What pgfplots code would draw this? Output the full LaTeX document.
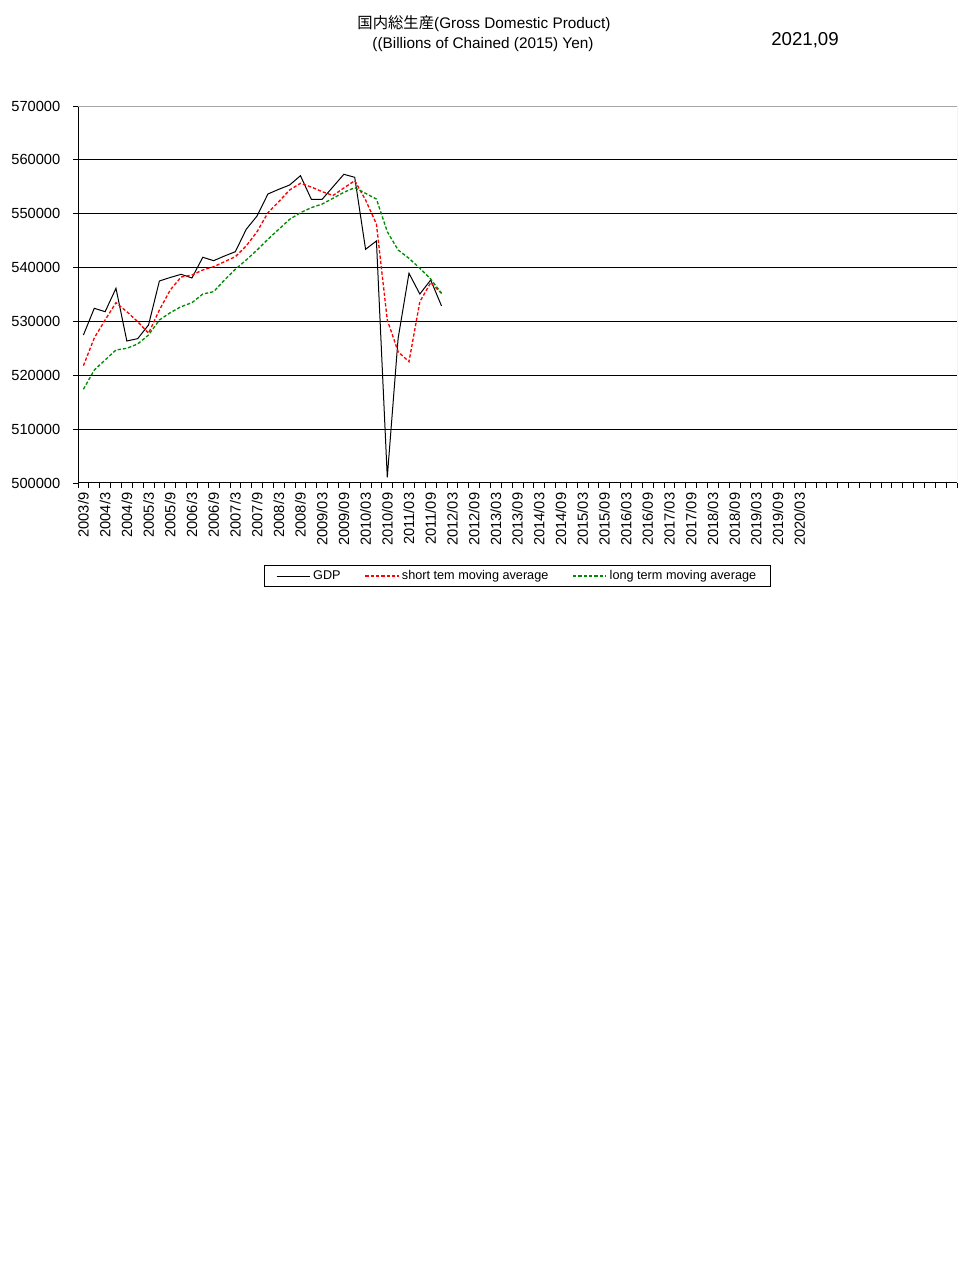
\documentclass[border=0pt]{standalone}
\usepackage{fontspec}
\setmainfont{Liberation Sans}
\newfontfamily\cjk{Noto Sans CJK JP}
\usepackage{pgfplots}
\pgfplotsset{compat=1.18}
\definecolor{lgreen}{RGB}{0,140,0}

\begin{document}
\begin{tikzpicture}
% page is 967x1268 px, 1px = 0.75pt
\begin{scope}[x=0.75pt,y=-0.75pt]
    \path[use as bounding box] (0,0) rectangle (967,1268);
    \node[font=\fontsize{11.5}{13}\selectfont] at (484,24) {{\cjk 国内総生産}(Gross Domestic Product)};
    \node[font=\fontsize{11.5}{13}\selectfont] at (483,45) {((Billions of Chained (2015) Yen)};
    \node[font=\fontsize{14}{16}\selectfont] at (805,40) {2021,09};
\end{scope}

\begin{axis}[
    at               = {(58.5pt,-79.5pt)},
    anchor           = north west,
    scale only axis,
    width            = 659.25pt,
    height           = 282.75pt,
    xmin             = -0.5,
    xmax             = 80.5,
    ymin             = 500000,
    ymax             = 570000,
    axis x line*     = bottom,
    axis y line*     = left,
    ytick            = {500000,510000,...,570000},
    scaled y ticks   = false,
    yticklabel style = {/pgf/number format/fixed, /pgf/number format/1000 sep={},
                        font=\fontsize{11}{12}\selectfont, xshift=-6pt},
    /pgf/number format/assume math mode=true,
    ymajorgrids,
    major grid style = {black, line width=0.75pt},
    axis line style  = {black, line width=0.75pt, -},
    tick align       = outside,
    major tick length= 3.75pt,
    minor tick length= 3.75pt,
    tick style       = {black, line width=0.6pt},
    xtick            = {0,2,...,66},
    major x tick style = {draw=none},
    minor xtick      = {-0.5,0.5,...,80.5},
    xticklabels      = {2003/9,2004/3,2004/9,2005/3,2005/9,2006/3,2006/9,2007/3,2007/9,2008/3,2008/9,
                        2009/03,2009/09,2010/03,2010/09,2011/03,2011/09,2012/03,2012/09,2013/03,2013/09,
                        2014/03,2014/09,2015/03,2015/09,2016/03,2016/09,2017/03,2017/09,2018/03,2018/09,
                        2019/03,2019/09,2020/03},
    xticklabel style = {rotate=90, anchor=east, font=\fontsize{11}{12}\selectfont},
    legend columns   = 3,
    legend style     = {at={(0.5,-0.2467)}, anchor=center, draw=black, line width=0.75pt,
                        font=\fontsize{9.5}{10}\selectfont, inner xsep=9pt,
                        /tikz/every even column/.append style={column sep=16pt}},
    legend image code/.code = {\draw[#1] (0pt,0pt) -- (25pt,0pt);},
    ]

    \addplot[black, line width=0.75pt, mark=none] coordinates {
        (0,527480) (1,532440) (2,531810) (3,536150) (4,526370) (5,526800)
        (6,529340) (7,537510) (8,538160) (9,538750) (10,538070) (11,541910)
        (12,541280) (13,542150) (14,542950) (15,547100) (16,549580) (17,553660)
        (18,554530) (19,555330) (20,557060) (21,552680) (22,552680) (23,555000)
        (24,557320) (25,556760) (26,543390) (27,544940) (28,501060) (29,526870)
        (30,538940) (31,535090) (32,537690) (33,532870)
    };
    \addlegendentry{GDP}

    \addplot[red, line width=1pt, dash pattern=on 2.5pt off 1.5pt, mark=none] coordinates {
        (0,521780) (1,526930) (2,530270) (3,533480) (4,531810) (5,529950)
        (6,527800) (7,532120) (8,535840) (9,538250) (10,538620) (11,539550)
        (12,540160) (13,541090) (14,542020) (15,544010) (16,546660) (17,550190)
        (18,552230) (19,554400) (20,555650) (21,554960) (22,554090) (23,553380)
        (24,554780) (25,556130) (26,552550) (27,548090) (28,530270) (29,524380)
        (30,522520) (31,533660) (32,537190) (33,535220)
    };
    \addlegendentry{short tem moving average}

    \addplot[lgreen, line width=1pt, dash pattern=on 2.5pt off 1.5pt, mark=none] coordinates {
        (0,517400) (1,520980) (2,522840) (3,524700) (4,525010) (5,525810)
        (6,527480) (7,530270) (8,531620) (9,532740) (10,533480) (11,535090)
        (12,535520) (13,537690) (14,539680) (15,541410) (16,543260) (17,545250)
        (18,547110) (19,548960) (20,550190) (21,551120) (22,551800) (23,552860)
        (24,553980) (25,554830) (26,553790) (27,552730) (28,546660) (29,543260)
        (30,541720) (31,539870) (32,537880) (33,535220)
    };
    \addlegendentry{long term moving average}

    \draw[gray!70, line width=0.75pt] (rel axis cs:0,1) -- (rel axis cs:1,1) -- (rel axis cs:1,0);
\end{axis}
\end{tikzpicture}
\end{document}
